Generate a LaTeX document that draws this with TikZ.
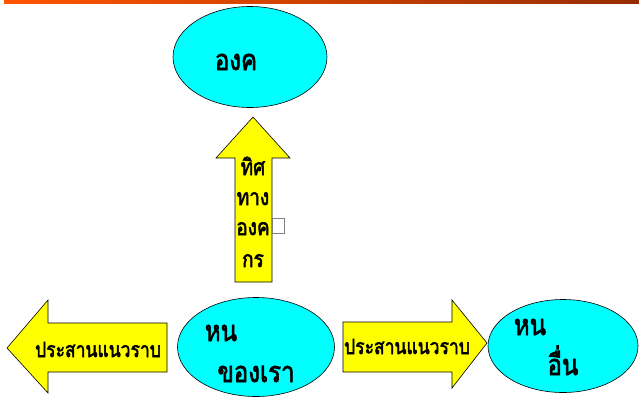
\documentclass[tikz,border=0pt]{standalone}
\usepackage{fontspec}
\usepackage{graphicx}
\newfontfamily\thaibold[Script=Thai, FakeBold=2.5]{Loma}
\newcommand{\tallth}[1]{\scalebox{1}[1.2]{#1}}
\usetikzlibrary{shapes.geometric}
\definecolor{cyanfill}{RGB}{0,255,255}
\definecolor{yellowfill}{RGB}{255,255,0}
\definecolor{barleft}{RGB}{255,85,0}
\definecolor{barright}{RGB}{150,45,0}
\tikzset{
  oval/.style={ellipse, draw=black, fill=cyanfill, line width=0.6pt, inner sep=0pt},
  blockarrow/.style={draw=black, fill=yellowfill, line width=0.6pt, line join=miter},
  lbl/.style={font=\thaibold\fontsize{24}{24}\selectfont, inner sep=0pt, anchor=base},
  vlbl/.style={font=\thaibold\fontsize{19}{19}\selectfont, inner sep=0pt, anchor=base},
  albl/.style={font=\thaibold\fontsize{17.5}{17.5}\selectfont, inner sep=0pt, anchor=base},
}
\begin{document}
\begin{tikzpicture}[x=1pt,y=-1pt]
\useasboundingbox (0,0) rectangle (639,399);
\fill[fill=white] (0,0) rectangle (639,399);
% top bar
\shade[left color=barleft, right color=barright] (4,0) rectangle (639,3.5);
% ellipses
\node[oval, minimum width=154pt, minimum height=101pt] (org) at (250,57) {};
\node[oval, minimum width=157pt, minimum height=99pt] (us) at (256,347) {};
\node[oval, minimum width=150pt, minimum height=93pt] (other) at (563,346) {};
% up arrow
\draw[blockarrow] (235,282) -- (235,158) -- (216,158) -- (253,117) -- (290,158) -- (272,158) -- (272,282) -- cycle;
% left arrow
\draw[blockarrow] (167,323) -- (48,323) -- (48,300) -- (7,348) -- (48,393) -- (48,372) -- (167,372) -- cycle;
% right arrow
\draw[blockarrow] (343,322) -- (452,322) -- (452,300) -- (487,343) -- (452,388) -- (452,372) -- (343,372) -- cycle;
% texts
\node[lbl] (torg) at (236,70) {\tallth{องค}};
\node[vlbl] (a1) at (253,175) {\tallth{ทิศ}};
\node[vlbl] (a2) at (253,205) {\tallth{ทาง}};
\node[vlbl] (a3) at (253,235) {\tallth{องค}};
\node[vlbl] (a4) at (253,267) {\tallth{กร}};
\draw[draw=gray, line width=0.5pt] (272,218) rectangle (284,233);
\node[albl] (left) at (98,357) {\tallth{ประสานแนวราบ}};
\node[albl] (right) at (407,354) {\tallth{ประสานแนวราบ}};
\node[lbl] (us1) at (221,341) {\tallth{หน}};
\node[lbl] (us2) at (256,382) {\tallth{ของเรา}};
\node[lbl] (ot1) at (530,335) {\tallth{หน}};
\node[lbl] (ot2) at (563,375) {\tallth{อื่น}};
\end{tikzpicture}
\end{document}
